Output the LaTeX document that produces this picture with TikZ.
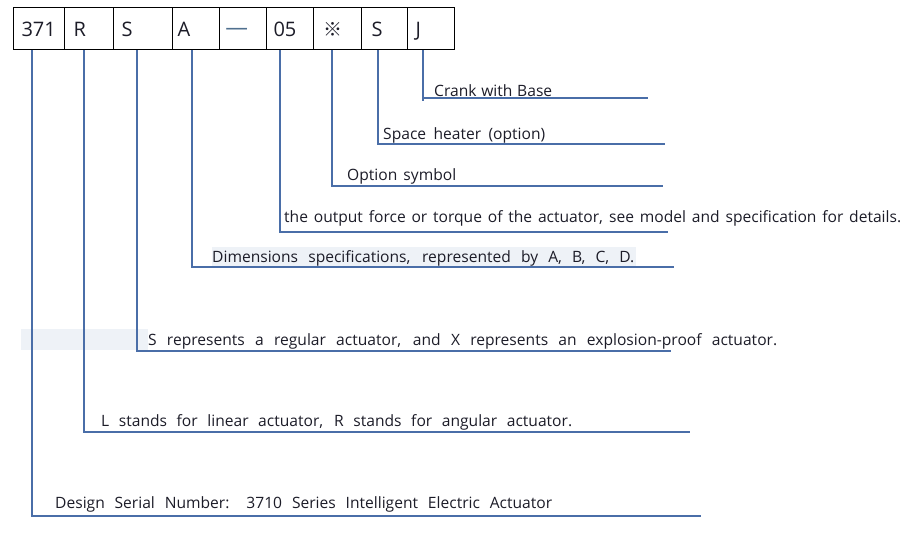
\documentclass[tikz,border=0pt]{standalone}
\usepackage{fontspec}
\setmainfont{Open Sans}
\newfontfamily\cjkfont{Noto Sans CJK SC}
\definecolor{lineblue}{HTML}{4A6EA8}
\definecolor{hilite}{HTML}{EEF2F7}
\definecolor{txt}{HTML}{1C1C28}
\definecolor{dashc}{HTML}{50708F}
\begin{document}
\begin{tikzpicture}[x=1pt,y=-1pt,
  cell/.style={draw=black, line width=1.1pt, anchor=north west, minimum height=42,
    inner ysep=0, align=left, text height=18, text depth=2, text=txt,
    font=\fontsize{20}{24}\selectfont},
  lbl/.style={anchor=base west, inner sep=0, text=txt, font=\fontsize{15.6}{18}\selectfont},
  conn/.style={draw=lineblue, line width=1.3pt},
  hl/.style={fill=hilite, draw=none}]
\useasboundingbox (0,0) rectangle (911,534);
% highlights
\fill[hl] (212,247) rectangle (636,268);
\fill[hl] (21,329) rectangle (148,350);
% code cells
\node[cell, minimum width=51, inner xsep=8, text width=35] (c1) at (13,7) {371};
\node[cell, minimum width=49, inner xsep=9, text width=31] (c2) at (64,7) {R};
\node[cell, minimum width=59, inner xsep=8, text width=43] (c3) at (113,7) {S};
\node[cell, minimum width=47, inner xsep=5, text width=37] (c4) at (172,7) {A};
\node[cell, minimum width=47, inner xsep=6, text width=35, text=dashc] (c5) at (219,7) {\cjkfont\fontsize{26}{26}\selectfont —};
\node[cell, minimum width=47, inner xsep=7, text width=33] (c6) at (266,7) {05};
\node[cell, minimum width=48, inner xsep=10, text width=28] (c7) at (313,7) {\cjkfont\fontsize{19}{24}\selectfont ※};
\node[cell, minimum width=46, inner xsep=10, text width=26] (c8) at (361,7) {S};
\node[cell, minimum width=47, inner xsep=8, text width=31] (c9) at (407,7) {J};
% labels
\node[lbl] (l9) at (434,97) {\makebox[118pt][s]{Crank with Base}};
\node[lbl] (l8) at (383,140) {\makebox[162pt][s]{Space heater (option)}};
\node[lbl] (l7) at (347,181) {\makebox[109pt][s]{Option symbol}};
\node[lbl] (l6) at (284,223) {\makebox[617pt][s]{the output force or torque of the actuator, see model and specification for details.}};
\node[lbl] (l4) at (212,263) {\makebox[422pt][s]{Dimensions specifications, represented by A, B, C, D.}};
\node[lbl] (l3) at (148,346) {\makebox[629pt][s]{S represents a regular actuator, and X represents an explosion-proof actuator.}};
\node[lbl] (l2) at (101,427) {\makebox[471pt][s]{L stands for linear actuator, R stands for angular actuator.}};
\node[lbl] (l1) at (55,509) {\makebox[497pt][s]{Design Serial Number: 3710 Series Intelligent Electric Actuator}};
% connector points
\coordinate (s1) at (32,50);  \coordinate (k1) at (32,516);  \coordinate (e1) at (701,516);
\coordinate (s2) at (84,50);  \coordinate (k2) at (84,432);  \coordinate (e2) at (690,432);
\coordinate (s3) at (137,50); \coordinate (k3) at (137,351); \coordinate (e3) at (671,351);
\coordinate (s4) at (192,50); \coordinate (k4) at (192,267); \coordinate (e4) at (674,267);
\coordinate (s6) at (280,50); \coordinate (k6) at (280,232); \coordinate (e6) at (668,232);
\coordinate (s7) at (332,50); \coordinate (k7) at (332,186); \coordinate (e7) at (663,186);
\coordinate (s8) at (378,50); \coordinate (k8) at (378,144); \coordinate (e8) at (665,144);
\coordinate (s9) at (423,50); \coordinate (k9) at (423,101); \coordinate (m9) at (423,98); \coordinate (e9) at (648,98);
\draw[conn] (s1) -- (k1) -- (e1);
\draw[conn] (s2) -- (k2) -- (e2);
\draw[conn] (s3) -- (k3) -- (e3);
\draw[conn] (s4) -- (k4) -- (e4);
\draw[conn] (s6) -- (k6) -- (e6);
\draw[conn] (s7) -- (k7) -- (e7);
\draw[conn] (s8) -- (k8) -- (e8);
\draw[conn] (s9) -- (k9);
\draw[conn] (m9) -- (e9);
\end{tikzpicture}
\end{document}
